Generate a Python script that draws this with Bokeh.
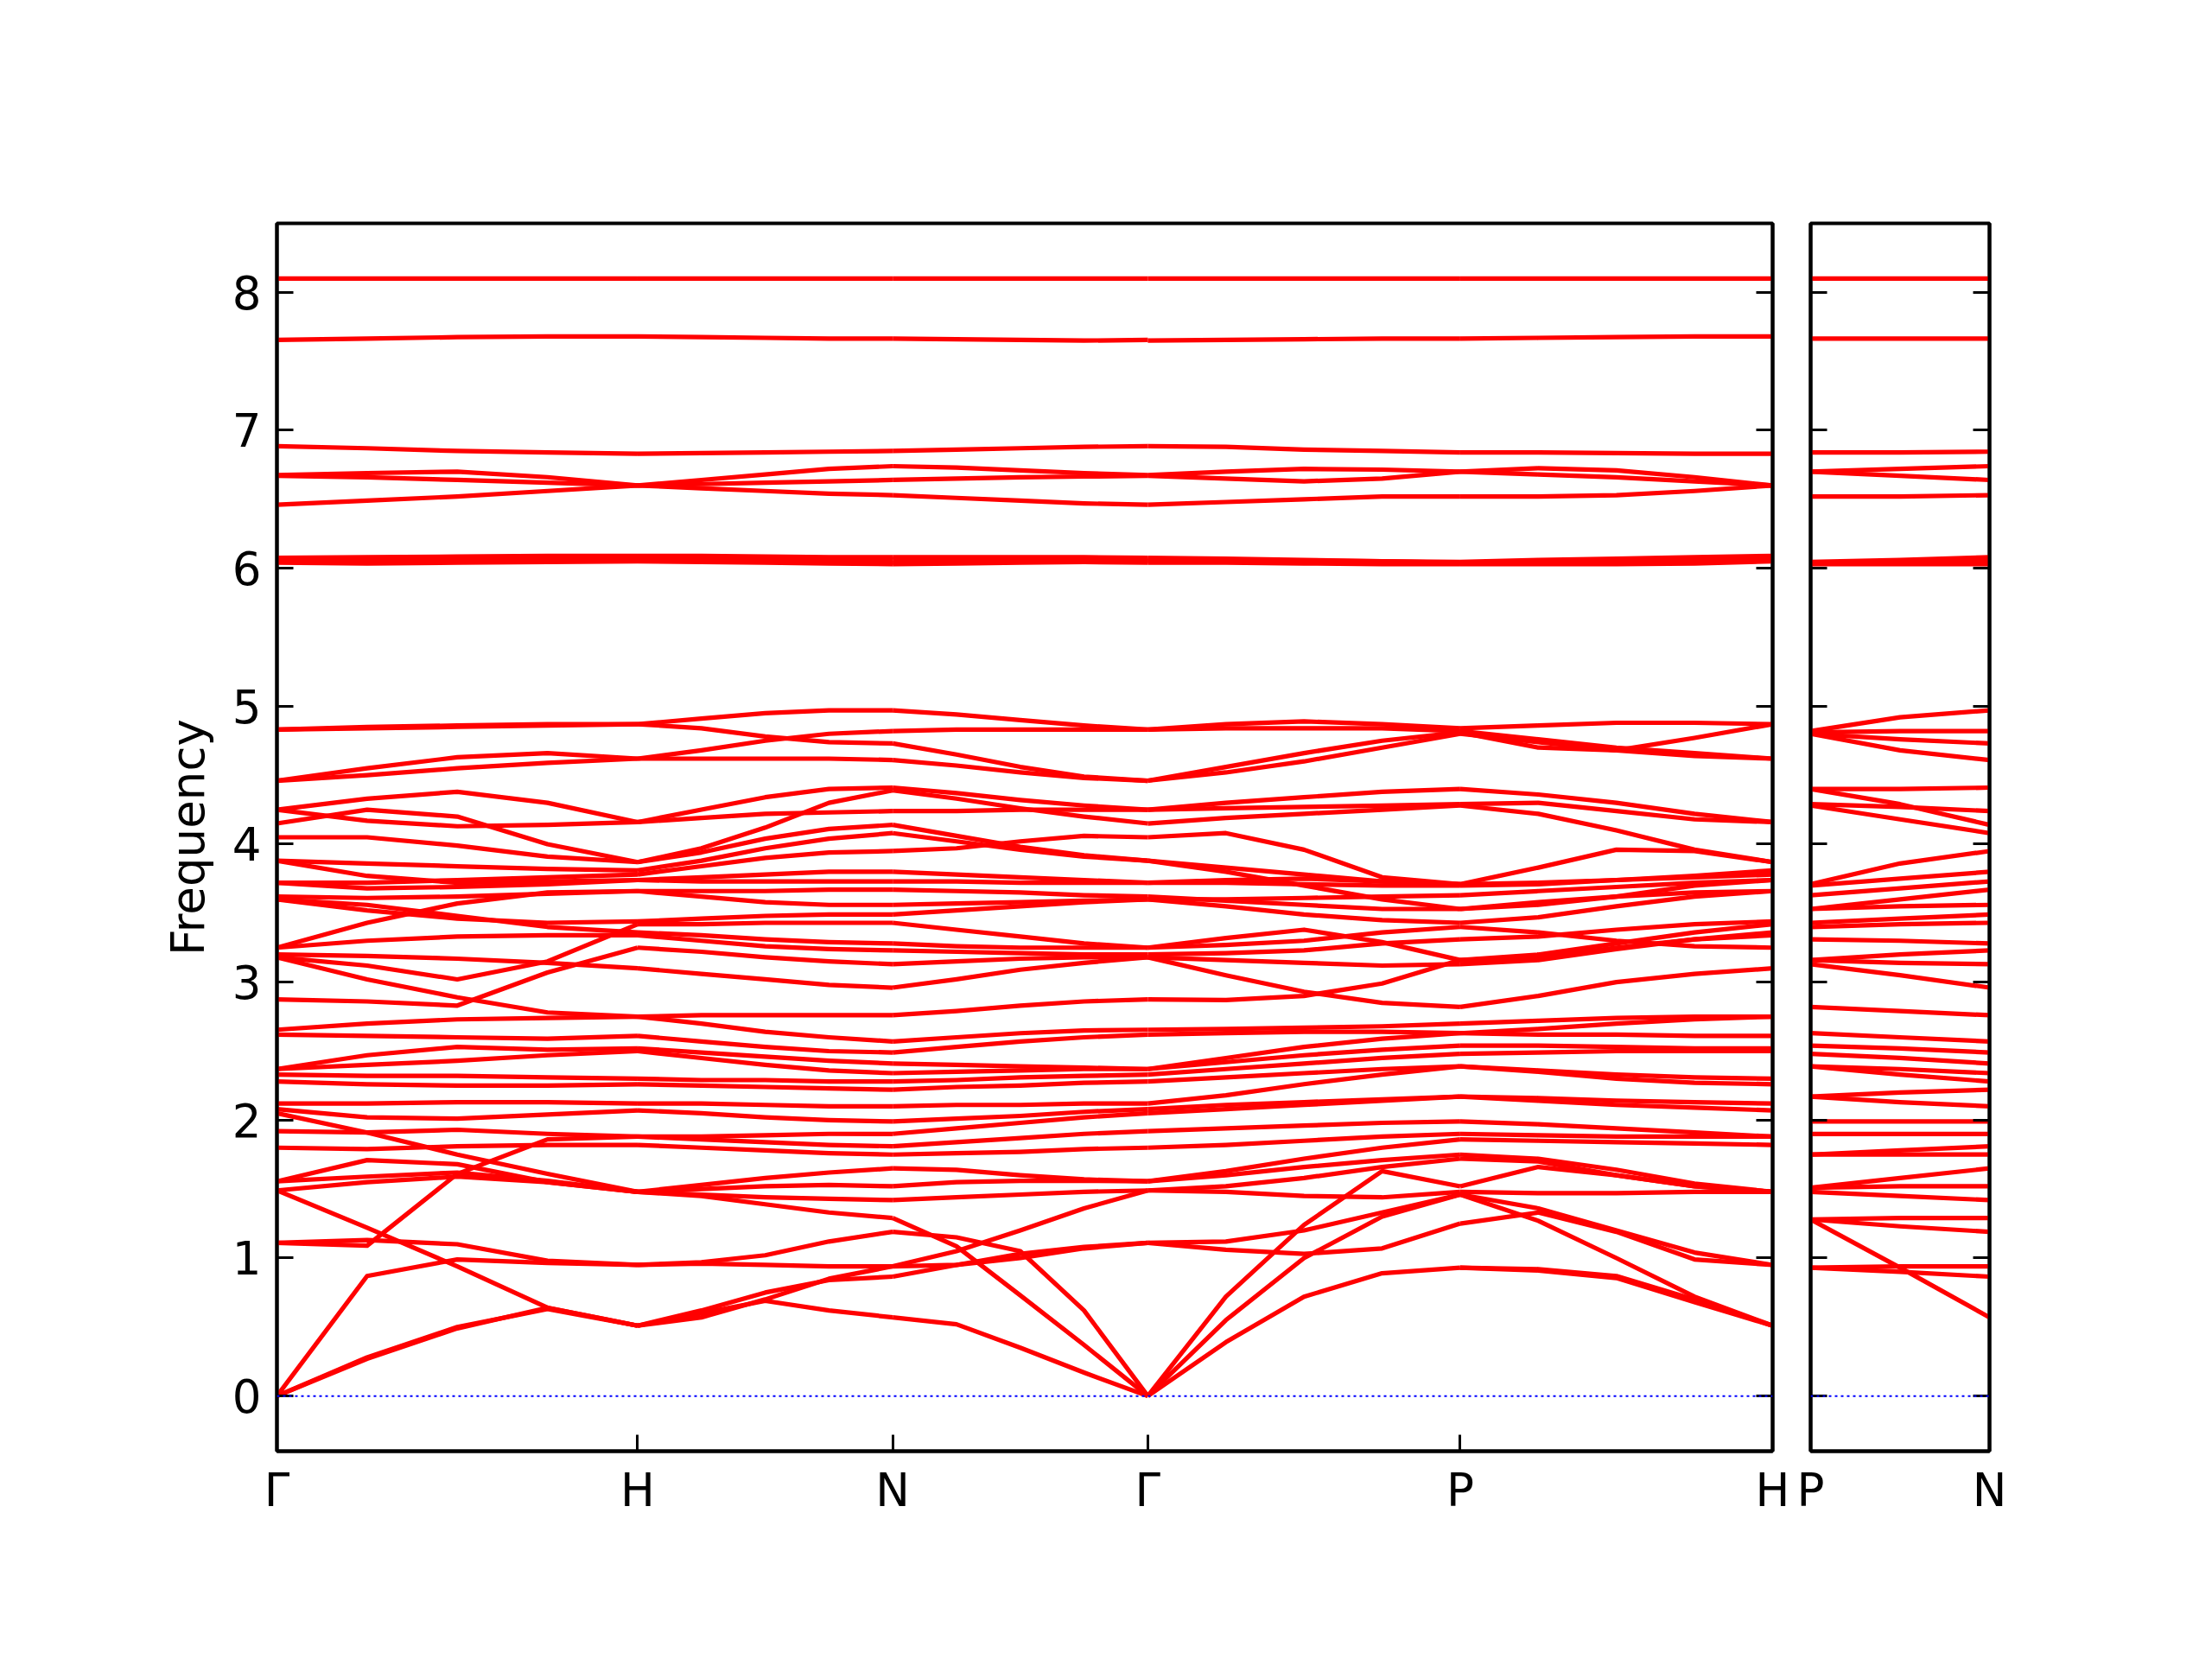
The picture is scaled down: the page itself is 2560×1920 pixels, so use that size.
from bokeh.plotting import figure
from bokeh.layouts import row
from bokeh.models import Range1d, FixedTicker, LinearAxis, Span
from bokeh.embed import file_html
from bokeh.resources import INLINE

# ---------------- data ----------------
kpoint_pos = [0.0, 1.0, 1.7071, 2.4142, 3.2802, 4.1463]
kpoint_labels = ["Γ", "H", "N", "Γ", "P", "H"]
side_pos = [0.0, 0.5]
side_labels = ["P", "N"]
freq_ticks = [0, 1, 2, 3, 4, 5, 6, 7, 8]
seg_frac = [0.0, 0.25, 0.5, 0.75, 1.0]
side_frac = [0.0, 0.5, 1.0]

# band frequencies sampled along each path segment (start, 1/4, 1/2, 3/4, end)
gamma_h = [
    [0, 0.27, 0.49, 0.64, 0.51],
    [0, 0.28, 0.50, 0.63, 0.51],
    [0, 0.87, 0.99, 0.965, 0.95],
    [1.49, 1.22, 0.94, 0.64, 0.51],
    [1.11, 1.09, 1.61, 1.86, 1.88],
    [1.11, 1.13, 1.10, 0.98, 0.95],
    [1.556, 1.71, 1.68, 1.55, 1.48],
    [1.556, 1.59, 1.62, 1.56, 1.48],
    [1.49, 1.55, 1.59, 1.55, 1.48],
    [2.05, 1.91, 1.75, 1.61, 1.48],
    [1.80, 1.79, 1.81, 1.82, 1.82],
    [1.92, 1.91, 1.93, 1.90, 1.88],
    [2.12, 2.12, 2.13, 2.13, 2.12],
    [2.08, 2.02, 2.01, 2.04, 2.07],
    [2.28, 2.26, 2.25, 2.25, 2.26],
    [2.33, 2.32, 2.32, 2.31, 2.30],
    [2.37, 2.47, 2.53, 2.51, 2.52],
    [2.37, 2.40, 2.43, 2.47, 2.50],
    [2.62, 2.61, 2.60, 2.59, 2.61],
    [2.655, 2.70, 2.73, 2.74, 2.75],
    [2.875, 2.86, 2.83, 3.07, 3.25],
    [3.18, 3.02, 2.89, 2.78, 2.75],
    [3.18, 3.12, 3.02, 3.15, 3.42],
    [3.20, 3.19, 3.17, 3.14, 3.10],
    [3.25, 3.43, 3.57, 3.65, 3.66],
    [3.25, 3.30, 3.33, 3.34, 3.34],
    [3.60, 3.52, 3.46, 3.43, 3.44],
    [3.60, 3.56, 3.48, 3.40, 3.36],
    [3.62, 3.61, 3.62, 3.64, 3.66],
    [3.72, 3.72, 3.74, 3.76, 3.78],
    [3.72, 3.68, 3.69, 3.71, 3.74],
    [3.88, 3.86, 3.84, 3.82, 3.81],
    [3.88, 3.77, 3.72, 3.73, 3.74],
    [4.05, 4.05, 3.99, 3.91, 3.87],
    [4.15, 4.25, 4.20, 4.00, 3.87],
    [4.25, 4.33, 4.38, 4.30, 4.16],
    [4.25, 4.17, 4.13, 4.14, 4.16],
    [4.46, 4.55, 4.63, 4.66, 4.62],
    [4.46, 4.50, 4.55, 4.59, 4.62],
    [4.83, 4.85, 4.86, 4.87, 4.87],
    [4.83, 4.84, 4.85, 4.86, 4.87],
    [6.075, 6.08, 6.085, 6.09, 6.09],
    [6.065, 6.07, 6.075, 6.075, 6.075],
    [6.05, 6.045, 6.05, 6.055, 6.06],
    [6.04, 6.035, 6.04, 6.045, 6.05],
    [6.46, 6.49, 6.52, 6.56, 6.60],
    [6.67, 6.66, 6.64, 6.62, 6.60],
    [6.675, 6.69, 6.70, 6.66, 6.60],
    [6.885, 6.87, 6.85, 6.84, 6.83],
    [7.655, 7.665, 7.675, 7.68, 7.68],
    [8.10, 8.10, 8.10, 8.10, 8.10],
]

h_n = [
    [0.51, 0.60, 0.69, 0.62, 0.57],
    [0.51, 0.62, 0.75, 0.84, 0.865],
    [0.51, 0.57, 0.70, 0.85, 0.94],
    [0.95, 0.96, 0.95, 0.94, 0.94],
    [0.95, 0.97, 1.02, 1.12, 1.19],
    [1.48, 1.45, 1.39, 1.33, 1.29],
    [1.48, 1.46, 1.44, 1.43, 1.42],
    [1.48, 1.50, 1.52, 1.53, 1.52],
    [1.48, 1.53, 1.58, 1.62, 1.65],
    [1.82, 1.80, 1.78, 1.76, 1.75],
    [1.88, 1.86, 1.84, 1.82, 1.81],
    [1.88, 1.88, 1.89, 1.90, 1.90],
    [2.07, 2.05, 2.02, 2.00, 1.99],
    [2.12, 2.12, 2.11, 2.10, 2.10],
    [2.26, 2.25, 2.24, 2.23, 2.22],
    [2.30, 2.29, 2.29, 2.28, 2.28],
    [2.50, 2.45, 2.40, 2.36, 2.34],
    [2.52, 2.49, 2.46, 2.43, 2.41],
    [2.61, 2.57, 2.53, 2.50, 2.49],
    [2.75, 2.70, 2.64, 2.60, 2.57],
    [2.75, 2.76, 2.76, 2.76, 2.76],
    [3.10, 3.06, 3.02, 2.98, 2.96],
    [3.25, 3.22, 3.18, 3.15, 3.13],
    [3.34, 3.30, 3.26, 3.24, 3.23],
    [3.36, 3.34, 3.31, 3.29, 3.28],
    [3.42, 3.42, 3.43, 3.43, 3.43],
    [3.44, 3.46, 3.48, 3.49, 3.49],
    [3.66, 3.62, 3.58, 3.56, 3.56],
    [3.66, 3.66, 3.66, 3.67, 3.67],
    [3.74, 3.73, 3.73, 3.73, 3.73],
    [3.74, 3.76, 3.78, 3.80, 3.80],
    [3.78, 3.84, 3.90, 3.94, 3.95],
    [3.81, 3.88, 3.97, 4.04, 4.08],
    [3.87, 3.94, 4.04, 4.11, 4.14],
    [3.87, 3.97, 4.12, 4.30, 4.39],
    [4.16, 4.25, 4.34, 4.40, 4.41],
    [4.16, 4.19, 4.22, 4.23, 4.24],
    [4.62, 4.62, 4.62, 4.62, 4.61],
    [4.62, 4.68, 4.75, 4.80, 4.82],
    [4.87, 4.91, 4.95, 4.97, 4.97],
    [4.87, 4.84, 4.78, 4.74, 4.73],
    [6.09, 6.09, 6.085, 6.08, 6.08],
    [6.075, 6.07, 6.07, 6.065, 6.065],
    [6.06, 6.055, 6.05, 6.045, 6.04],
    [6.05, 6.045, 6.04, 6.035, 6.03],
    [6.60, 6.64, 6.68, 6.72, 6.74],
    [6.60, 6.61, 6.62, 6.63, 6.64],
    [6.60, 6.58, 6.56, 6.54, 6.53],
    [6.83, 6.835, 6.84, 6.845, 6.85],
    [7.68, 7.675, 7.67, 7.665, 7.665],
    [8.10, 8.10, 8.10, 8.10, 8.10],
]

n_gamma = [
    [0.57, 0.52, 0.35, 0.17, 0],
    [1.29, 1.085, 0.73, 0.37, 0],
    [1.19, 1.15, 1.05, 0.62, 0],
    [0.865, 0.95, 1.03, 1.08, 1.11],
    [0.94, 0.95, 1.00, 1.07, 1.11],
    [0.94, 1.05, 1.20, 1.36, 1.49],
    [1.42, 1.44, 1.46, 1.48, 1.49],
    [1.52, 1.55, 1.56, 1.56, 1.556],
    [1.65, 1.64, 1.60, 1.57, 1.556],
    [1.75, 1.76, 1.77, 1.79, 1.80],
    [1.81, 1.84, 1.87, 1.90, 1.92],
    [1.90, 1.94, 1.98, 2.02, 2.05],
    [1.99, 2.01, 2.03, 2.06, 2.08],
    [2.10, 2.11, 2.11, 2.12, 2.12],
    [2.22, 2.24, 2.25, 2.27, 2.28],
    [2.28, 2.29, 2.31, 2.32, 2.33],
    [2.34, 2.35, 2.36, 2.37, 2.37],
    [2.41, 2.40, 2.39, 2.38, 2.37],
    [2.49, 2.53, 2.57, 2.60, 2.62],
    [2.57, 2.60, 2.63, 2.65, 2.655],
    [2.76, 2.79, 2.83, 2.86, 2.875],
    [2.96, 3.02, 3.09, 3.14, 3.18],
    [3.13, 3.15, 3.17, 3.18, 3.18],
    [3.23, 3.22, 3.21, 3.20, 3.20],
    [3.28, 3.26, 3.25, 3.25, 3.25],
    [3.43, 3.38, 3.33, 3.28, 3.25],
    [3.49, 3.52, 3.55, 3.58, 3.60],
    [3.56, 3.57, 3.58, 3.59, 3.60],
    [3.67, 3.66, 3.65, 3.63, 3.62],
    [3.73, 3.73, 3.72, 3.72, 3.72],
    [3.80, 3.78, 3.76, 3.74, 3.72],
    [3.95, 3.97, 4.02, 4.06, 4.05],
    [4.08, 4.02, 3.96, 3.91, 3.88],
    [4.14, 4.06, 3.98, 3.92, 3.88],
    [4.24, 4.24, 4.25, 4.25, 4.25],
    [4.39, 4.33, 4.26, 4.20, 4.15],
    [4.41, 4.37, 4.32, 4.28, 4.25],
    [4.61, 4.57, 4.52, 4.48, 4.46],
    [4.73, 4.65, 4.56, 4.49, 4.46],
    [4.82, 4.83, 4.83, 4.83, 4.83],
    [4.97, 4.94, 4.90, 4.86, 4.83],
    [6.08, 6.08, 6.08, 6.08, 6.075],
    [6.065, 6.065, 6.065, 6.07, 6.065],
    [6.04, 6.045, 6.05, 6.055, 6.05],
    [6.03, 6.035, 6.04, 6.045, 6.04],
    [6.53, 6.51, 6.49, 6.47, 6.46],
    [6.64, 6.65, 6.66, 6.665, 6.67],
    [6.74, 6.73, 6.71, 6.69, 6.675],
    [6.85, 6.86, 6.87, 6.88, 6.885],
    [7.665, 7.66, 7.655, 7.65, 7.655],
    [8.10, 8.10, 8.10, 8.10, 8.10],
]

gamma_p = [
    [0, 0.39, 0.72, 0.89, 0.93],
    [0, 0.55, 1.00, 1.30, 1.46],
    [0, 0.72, 1.24, 1.63, 1.52],
    [1.11, 1.06, 1.03, 1.07, 1.25],
    [1.11, 1.12, 1.20, 1.33, 1.46],
    [1.49, 1.48, 1.45, 1.44, 1.48],
    [1.49, 1.52, 1.58, 1.66, 1.72],
    [1.556, 1.60, 1.66, 1.71, 1.75],
    [1.556, 1.63, 1.72, 1.80, 1.86],
    [1.80, 1.82, 1.85, 1.88, 1.90],
    [1.92, 1.94, 1.96, 1.98, 1.99],
    [2.05, 2.08, 2.11, 2.14, 2.17],
    [2.08, 2.11, 2.13, 2.15, 2.17],
    [2.12, 2.18, 2.26, 2.33, 2.39],
    [2.28, 2.31, 2.34, 2.37, 2.39],
    [2.33, 2.37, 2.41, 2.45, 2.48],
    [2.37, 2.42, 2.47, 2.51, 2.54],
    [2.37, 2.45, 2.53, 2.59, 2.63],
    [2.62, 2.63, 2.64, 2.64, 2.63],
    [2.655, 2.66, 2.67, 2.68, 2.70],
    [2.875, 2.87, 2.90, 2.99, 3.16],
    [3.18, 3.05, 2.93, 2.85, 2.82],
    [3.18, 3.16, 3.14, 3.12, 3.13],
    [3.20, 3.21, 3.23, 3.28, 3.31],
    [3.25, 3.32, 3.38, 3.29, 3.16],
    [3.25, 3.27, 3.30, 3.36, 3.40],
    [3.60, 3.55, 3.49, 3.45, 3.43],
    [3.60, 3.60, 3.61, 3.62, 3.63],
    [3.62, 3.59, 3.56, 3.53, 3.53],
    [3.72, 3.72, 3.71, 3.70, 3.70],
    [3.72, 3.74, 3.75, 3.73, 3.71],
    [3.88, 3.80, 3.70, 3.60, 3.53],
    [3.88, 3.83, 3.78, 3.73, 3.71],
    [4.05, 4.08, 3.96, 3.76, 3.71],
    [4.15, 4.19, 4.22, 4.25, 4.28],
    [4.25, 4.30, 4.34, 4.38, 4.40],
    [4.25, 4.26, 4.27, 4.28, 4.29],
    [4.46, 4.56, 4.66, 4.75, 4.81],
    [4.46, 4.52, 4.60, 4.70, 4.80],
    [4.83, 4.87, 4.89, 4.87, 4.84],
    [4.83, 4.84, 4.84, 4.84, 4.82],
    [6.075, 6.07, 6.06, 6.05, 6.045],
    [6.065, 6.06, 6.055, 6.05, 6.04],
    [6.05, 6.05, 6.045, 6.04, 6.035],
    [6.04, 6.04, 6.035, 6.03, 6.03],
    [6.46, 6.48, 6.50, 6.52, 6.52],
    [6.67, 6.65, 6.63, 6.65, 6.70],
    [6.675, 6.70, 6.72, 6.715, 6.70],
    [6.885, 6.88, 6.86, 6.85, 6.84],
    [7.65, 7.655, 7.66, 7.665, 7.665],
    [8.10, 8.10, 8.10, 8.10, 8.10],
]

p_h = [
    [0.93, 0.91, 0.855, 0.68, 0.51],
    [0.93, 0.92, 0.87, 0.70, 0.51],
    [1.46, 1.27, 1.00, 0.72, 0.51],
    [1.25, 1.33, 1.19, 0.99, 0.95],
    [1.46, 1.36, 1.20, 1.04, 0.95],
    [1.48, 1.47, 1.47, 1.48, 1.48],
    [1.52, 1.66, 1.60, 1.52, 1.48],
    [1.72, 1.70, 1.60, 1.52, 1.48],
    [1.75, 1.72, 1.64, 1.54, 1.48],
    [1.86, 1.85, 1.84, 1.83, 1.82],
    [1.90, 1.89, 1.88, 1.88, 1.88],
    [1.99, 1.97, 1.94, 1.91, 1.88],
    [2.17, 2.14, 2.11, 2.09, 2.07],
    [2.17, 2.16, 2.14, 2.13, 2.12],
    [2.39, 2.35, 2.30, 2.27, 2.26],
    [2.39, 2.36, 2.33, 2.31, 2.30],
    [2.48, 2.49, 2.50, 2.50, 2.50],
    [2.54, 2.54, 2.53, 2.52, 2.52],
    [2.63, 2.62, 2.62, 2.61, 2.61],
    [2.63, 2.66, 2.70, 2.73, 2.75],
    [2.82, 2.90, 3.00, 3.06, 3.10],
    [2.70, 2.72, 2.74, 2.75, 2.75],
    [3.71, 3.83, 3.96, 3.95, 3.87],
    [4.40, 4.36, 4.30, 4.22, 4.16],
    [4.29, 4.30, 4.24, 4.18, 4.16],
    [4.28, 4.22, 4.10, 3.96, 3.87],
    [3.71, 3.72, 3.74, 3.77, 3.81],
    [3.70, 3.71, 3.74, 3.76, 3.78],
    [3.63, 3.66, 3.69, 3.72, 3.74],
    [3.53, 3.56, 3.62, 3.70, 3.74],
    [3.53, 3.58, 3.62, 3.65, 3.66],
    [3.43, 3.47, 3.55, 3.62, 3.66],
    [3.40, 3.36, 3.30, 3.26, 3.25],
    [3.31, 3.33, 3.38, 3.42, 3.44],
    [3.16, 3.20, 3.28, 3.36, 3.42],
    [3.16, 3.18, 3.25, 3.31, 3.34],
    [3.13, 3.16, 3.24, 3.31, 3.36],
    [4.84, 4.86, 4.88, 4.88, 4.87],
    [4.82, 4.76, 4.70, 4.66, 4.62],
    [4.81, 4.70, 4.68, 4.77, 4.87],
    [4.80, 4.74, 4.68, 4.64, 4.62],
    [6.045, 6.06, 6.07, 6.08, 6.09],
    [6.04, 6.05, 6.06, 6.07, 6.075],
    [6.035, 6.04, 6.045, 6.05, 6.06],
    [6.03, 6.03, 6.03, 6.035, 6.05],
    [6.52, 6.52, 6.53, 6.56, 6.60],
    [6.70, 6.725, 6.71, 6.66, 6.60],
    [6.70, 6.68, 6.66, 6.63, 6.60],
    [6.84, 6.84, 6.835, 6.83, 6.83],
    [7.665, 7.67, 7.675, 7.68, 7.68],
    [8.10, 8.10, 8.10, 8.10, 8.10],
]

# second panel P -> N (start, middle, end)
p_n = [
    [0.93, 0.94, 0.94],
    [0.93, 0.90, 0.865],
    [1.28, 0.93, 0.57],
    [1.28, 1.23, 1.19],
    [1.28, 1.29, 1.29],
    [1.48, 1.45, 1.42],
    [1.51, 1.52, 1.52],
    [1.51, 1.58, 1.65],
    [1.75, 1.75, 1.75],
    [1.75, 1.78, 1.81],
    [1.90, 1.90, 1.90],
    [1.99, 1.99, 1.99],
    [2.17, 2.13, 2.10],
    [2.17, 2.20, 2.22],
    [2.39, 2.33, 2.28],
    [2.39, 2.37, 2.34],
    [2.48, 2.45, 2.41],
    [2.54, 2.52, 2.49],
    [2.63, 2.60, 2.57],
    [2.82, 2.79, 2.76],
    [3.13, 3.05, 2.96],
    [3.16, 3.14, 3.13],
    [3.16, 3.20, 3.23],
    [3.31, 3.30, 3.28],
    [3.40, 3.42, 3.43],
    [3.43, 3.46, 3.49],
    [3.53, 3.55, 3.56],
    [3.53, 3.60, 3.67],
    [3.63, 3.68, 3.73],
    [3.70, 3.75, 3.80],
    [3.71, 3.86, 3.95],
    [4.28, 4.18, 4.08],
    [4.29, 4.27, 4.24],
    [4.40, 4.29, 4.14],
    [4.40, 4.40, 4.41],
    [4.82, 4.92, 4.97],
    [4.81, 4.82, 4.82],
    [4.80, 4.76, 4.73],
    [4.80, 4.68, 4.61],
    [6.045, 6.06, 6.08],
    [6.04, 6.05, 6.065],
    [6.035, 6.04, 6.04],
    [6.03, 6.03, 6.03],
    [6.52, 6.52, 6.53],
    [6.70, 6.72, 6.74],
    [6.70, 6.67, 6.64],
    [6.84, 6.84, 6.845],
    [7.665, 7.665, 7.665],
    [8.10, 8.10, 8.10],
]

# ---------------- styling ----------------
FONT = "DejaVu Sans"
FS = "53px"
BAND_COLOR = "#ff0000"
BAND_WIDTH = 5.2


def style_axis(ax, labels=True, standoff=18):
    ax.major_tick_in = 19
    ax.major_tick_out = 0
    ax.minor_tick_in = 0
    ax.minor_tick_out = 0
    ax.major_tick_line_width = 3
    ax.major_tick_line_color = "black"
    ax.axis_line_width = 4
    ax.axis_line_color = "black"
    ax.major_label_text_font = FONT
    ax.major_label_text_color = "black"
    ax.major_label_standoff = standoff
    if labels:
        ax.major_label_text_font_size = FS
    else:
        ax.major_label_text_font_size = "0px"
        ax.major_label_text_alpha = 0


segments = [gamma_h, h_n, n_gamma, gamma_p, p_h]
xs, ys = [], []
for i, seg in enumerate(segments):
    x0, x1 = kpoint_pos[i], kpoint_pos[i + 1]
    xseg = [x0 + f * (x1 - x0) for f in seg_frac]
    for band in seg:
        xs.append(xseg)
        ys.append(band)

p = figure(frame_width=1731, frame_height=1421,
           x_range=Range1d(kpoint_pos[0], kpoint_pos[-1]),
           y_range=Range1d(-0.4, 8.5),
           output_backend="svg", toolbar_location=None,
           min_border_left=320, min_border_right=22,
           min_border_top=258, min_border_bottom=150,
           background_fill_color="white", border_fill_color="white")
p.xgrid.visible = False
p.ygrid.visible = False
p.outline_line_color = "black"
p.outline_line_width = 4

p.multi_line(xs, ys, line_color=BAND_COLOR, line_width=BAND_WIDTH, line_join="round")
p.add_layout(Span(location=0, dimension="width", line_color="#0000ff",
                  line_dash="3 4", line_width=2))

p.xaxis.ticker = FixedTicker(ticks=kpoint_pos)
p.xaxis.major_label_overrides = {pos: lab for pos, lab in zip(kpoint_pos, kpoint_labels)}
style_axis(p.xaxis[0], True, 14)
p.yaxis.ticker = FixedTicker(ticks=freq_ticks)
style_axis(p.yaxis[0], True, 18)
p.yaxis.axis_label = "Frequency"
p.yaxis.axis_label_text_font = FONT
p.yaxis.axis_label_text_font_size = FS
p.yaxis.axis_label_text_font_style = "normal"
p.yaxis.axis_label_text_color = "black"
p.yaxis.axis_label_standoff = 18
right_axis = LinearAxis(ticker=FixedTicker(ticks=freq_ticks))
style_axis(right_axis, False, 0)
p.add_layout(right_axis, "right")

# second panel
xs2, ys2 = [], []
xside = [side_pos[0] + f * (side_pos[1] - side_pos[0]) for f in side_frac]
for band in p_n:
    xs2.append(xside)
    ys2.append(band)

p2 = figure(frame_width=207, frame_height=1421,
            x_range=Range1d(side_pos[0], side_pos[1]),
            y_range=Range1d(-0.4, 8.5),
            output_backend="svg", toolbar_location=None,
            min_border_left=22, min_border_right=60,
            min_border_top=258, min_border_bottom=150,
            background_fill_color="white", border_fill_color="white")
p2.xgrid.visible = False
p2.ygrid.visible = False
p2.outline_line_color = "black"
p2.outline_line_width = 4
p2.multi_line(xs2, ys2, line_color=BAND_COLOR, line_width=BAND_WIDTH, line_join="round")
p2.add_layout(Span(location=0, dimension="width", line_color="#0000ff",
                   line_dash="3 4", line_width=2))
p2.xaxis.ticker = FixedTicker(ticks=side_pos)
p2.xaxis.major_label_overrides = {pos: lab for pos, lab in zip(side_pos, side_labels)}
style_axis(p2.xaxis[0], True, 14)
p2.yaxis.ticker = FixedTicker(ticks=freq_ticks)
style_axis(p2.yaxis[0], False, 0)
right_axis2 = LinearAxis(ticker=FixedTicker(ticks=freq_ticks))
style_axis(right_axis2, False, 0)
p2.add_layout(right_axis2, "right")

layout = row(p, p2, spacing=0)
open("out.html", "w").write(file_html(layout, INLINE))
